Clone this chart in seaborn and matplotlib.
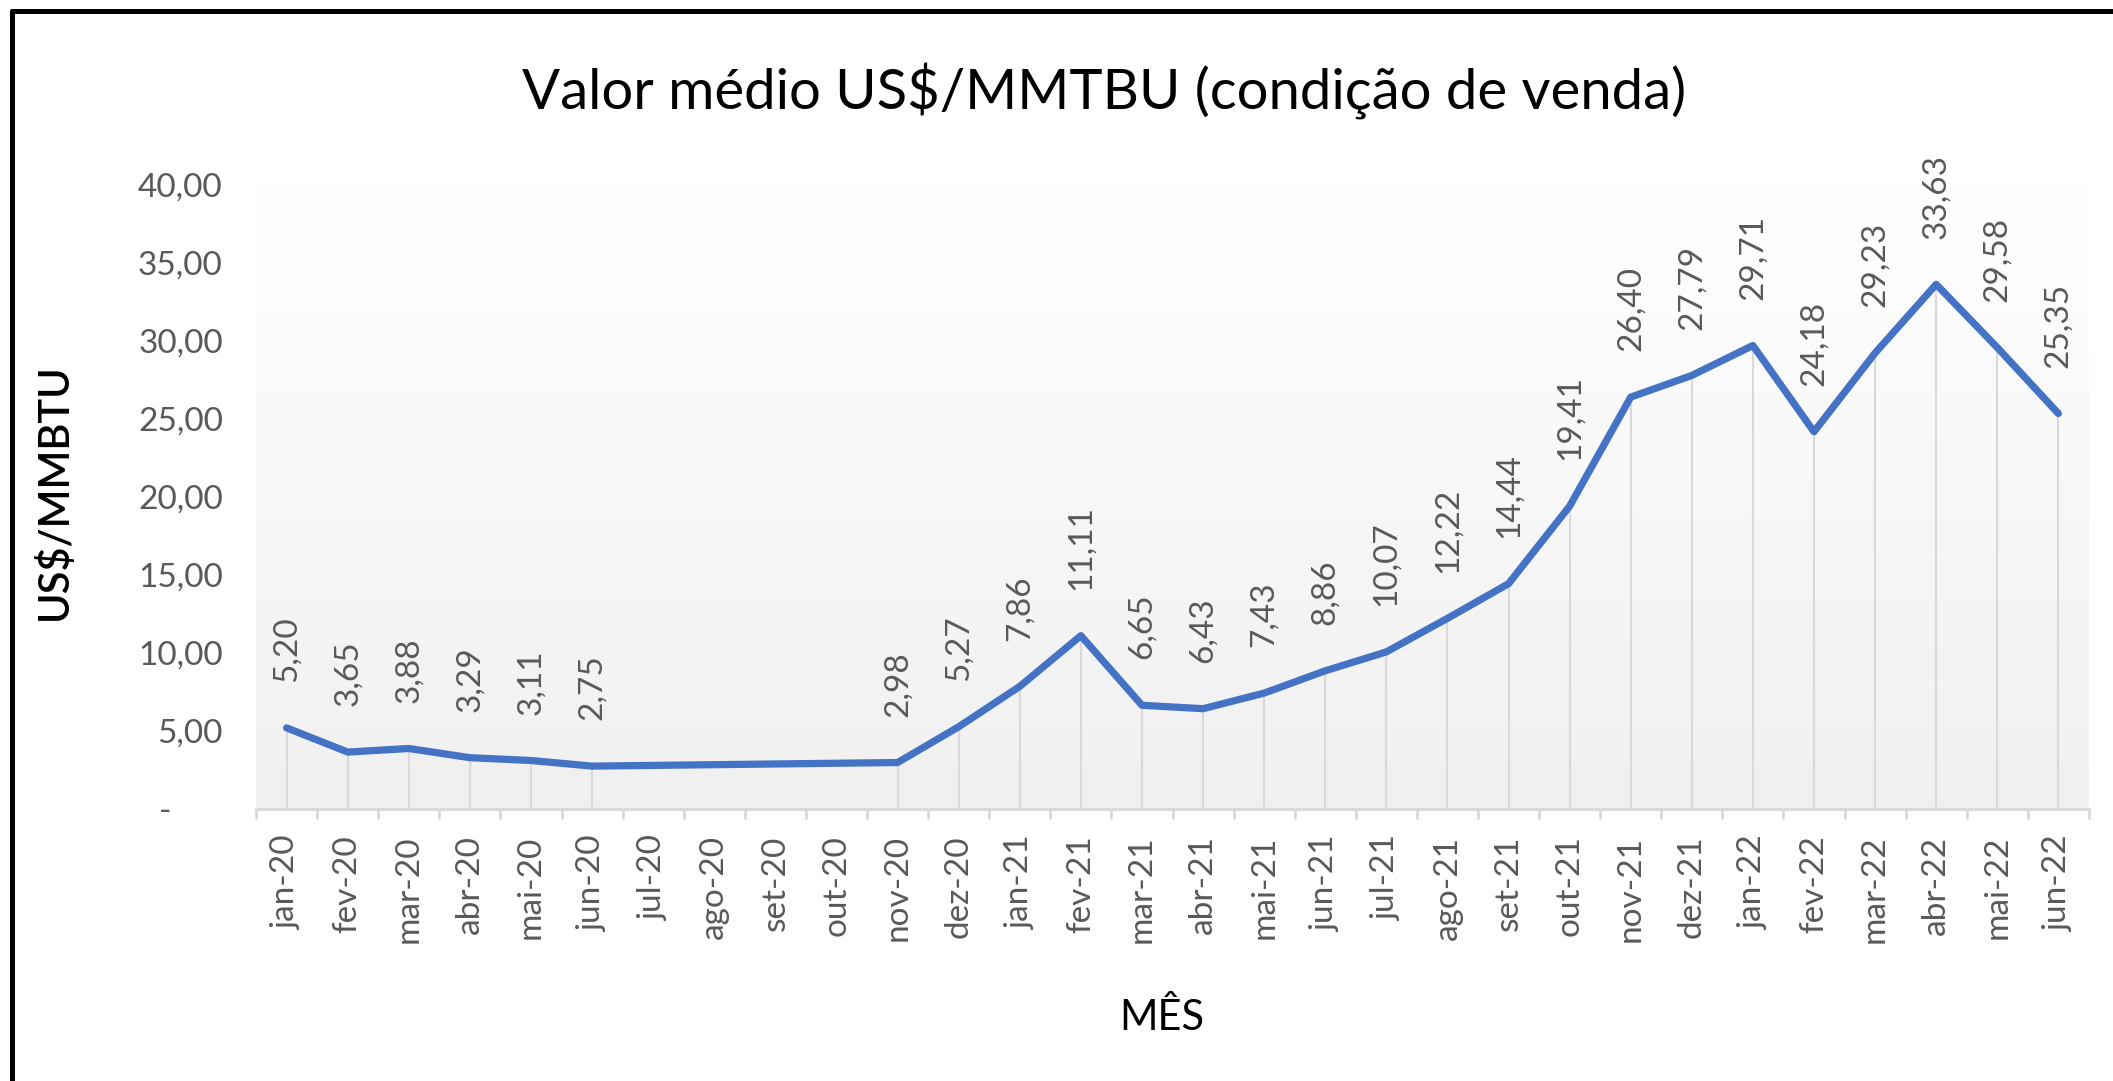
import numpy as np
import pandas as pd
import matplotlib
matplotlib.use("Agg")
import matplotlib.pyplot as plt
from matplotlib.colors import LinearSegmentedColormap
from matplotlib.lines import Line2D
import seaborn as sns

# monthly values (empty months are gaps that Excel joins with the line)
months = ["jan-20", "fev-20", "mar-20", "abr-20", "mai-20", "jun-20", "jul-20", "ago-20",
          "set-20", "out-20", "nov-20", "dez-20", "jan-21", "fev-21", "mar-21", "abr-21",
          "mai-21", "jun-21", "jul-21", "ago-21", "set-21", "out-21", "nov-21", "dez-21",
          "jan-22", "fev-22", "mar-22", "abr-22", "mai-22", "jun-22"]
values = [5.20, 3.65, 3.88, 3.29, 3.11, 2.75, np.nan, np.nan,
          np.nan, np.nan, 2.98, 5.27, 7.86, 11.11, 6.65, 6.43,
          7.43, 8.86, 10.07, 12.22, 14.44, 19.41, 26.40, 27.79,
          29.71, 24.18, 29.23, 33.63, 29.58, 25.35]
y_ticks = [0, 5, 10, 15, 20, 25, 30, 35, 40]

sns.set_style("white")
plt.rcParams["font.family"] = ["Lato", "DejaVu Sans"]

gray = "#595959"
line_gray = "#d9d9d9"
blue = "#4472C4"

df = pd.DataFrame({"pos": np.arange(len(months)), "mes": months, "valor": values})
pts = df.dropna()

fig = plt.figure(figsize=(21.13, 10.81), dpi=100)
ax = fig.add_axes([0.1212, 0.2516, 0.8674, 0.5773])

# plot area gradient
cmap = LinearSegmentedColormap.from_list("bg", ["#ffffff", "#f0f0f0"])
ax.imshow(np.linspace(0, 1, 200).reshape(-1, 1), extent=[-0.5, len(months) - 0.5, 0, 40],
          aspect="auto", cmap=cmap, zorder=0, origin="upper")

# drop lines
ax.vlines(pts["pos"], 0, pts["valor"], color=line_gray, linewidth=1.5, zorder=1)

sns.lineplot(data=pts, x="pos", y="valor", ax=ax, color=blue, linewidth=5.2,
             zorder=3, legend=False)

for _, r in pts.iterrows():
    ax.annotate(f"{r['valor']:.2f}".replace(".", ","), (r["pos"], r["valor"]),
                xytext=(0, 33), textcoords="offset points", rotation=90,
                ha="center", va="bottom", color=gray, fontsize=24)

ax.set_xlim(-0.5, len(months) - 0.5)
ax.set_ylim(0, 40)

ax.set_xticks(np.arange(-0.5, len(months), 1.0))
ax.set_xticklabels([])
ax.set_xticks(np.arange(len(months)), minor=True)
ax.set_xticklabels(months, minor=True, rotation=90, color=gray, fontsize=24, va="top")
ax.tick_params(axis="x", which="major", length=7, width=2, color=line_gray, direction="out", bottom=True)
ax.tick_params(axis="x", which="minor", length=0, pad=19)

ax.set_yticks(y_ticks)
ax.set_yticklabels([f"{v:.2f}".replace(".", ",") if v else "-      " for v in y_ticks],
                   color=gray, fontsize=24)
ax.tick_params(axis="y", length=0, pad=24)

for s in ["top", "right", "left"]:
    ax.spines[s].set_visible(False)
ax.spines["bottom"].set_color(line_gray)
ax.spines["bottom"].set_linewidth(2.2)

ax.set_xlabel("")
ax.set_ylabel("")
fig.text(0.5225, 0.915, "Valor médio US$/MMTBU (condição de venda)", ha="center", va="center",
         fontsize=40.5, color="black")
fig.text(0.0255, 0.545, "US$/MMBTU", rotation=90, ha="center", va="center",
         fontsize=30, fontweight="semibold", color="black")
fig.text(0.55, 0.059, "MÊS", ha="center", va="center", fontsize=30, color="black")

# frame of the screenshot (left and top edges)
fig.add_artist(Line2D([0.0057, 0.0057], [0, 0.99], transform=fig.transFigure, color="black", linewidth=3.6))
fig.add_artist(Line2D([0.0057, 1.0], [0.99, 0.99], transform=fig.transFigure, color="black", linewidth=3.6))

fig.savefig("out.png", dpi=100, facecolor="white")
